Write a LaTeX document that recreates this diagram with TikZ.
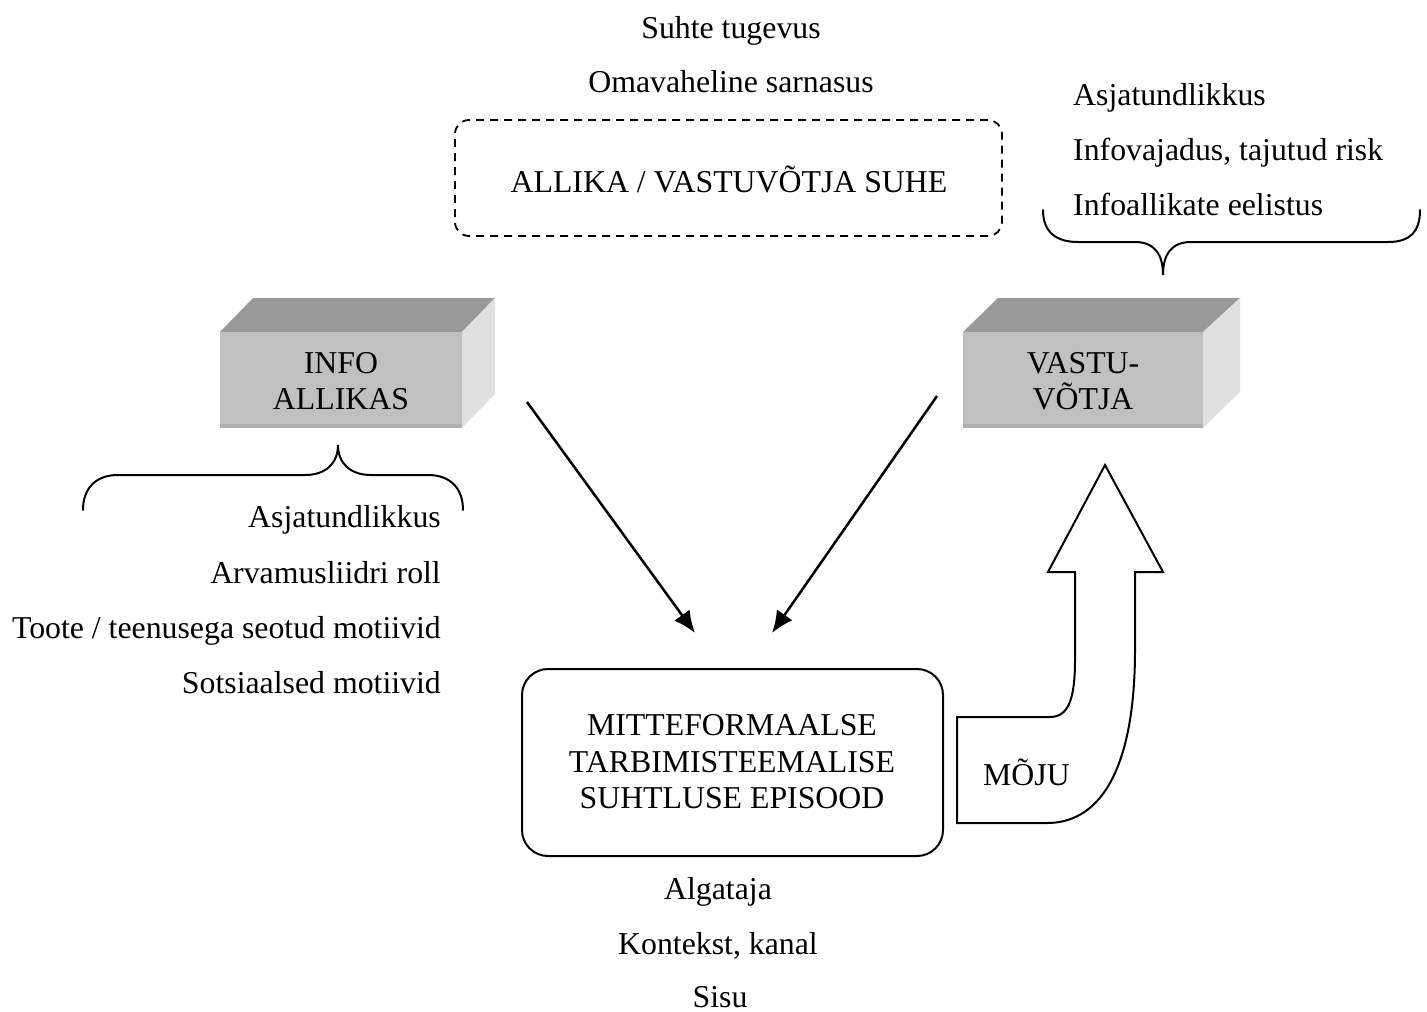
\documentclass[tikz,border=0pt]{standalone}
\usepackage{fontspec}
\setmainfont{Liberation Serif}
\usetikzlibrary{arrows.meta}
\definecolor{boxfront}{HTML}{C0C0C0}
\definecolor{boxtop}{HTML}{999999}
\definecolor{boxside}{HTML}{E0E0E0}
\definecolor{boxedge}{HTML}{AFAFAF}
\begin{document}
\begin{tikzpicture}[x=1pt,y=-1pt,
  txt/.style={font=\fontsize{31.8}{36.5}\selectfont, inner sep=0pt, anchor=base},
  txtL/.style={txt, anchor=base west},
  txtR/.style={txt, anchor=base east},
  brace/.style={line width=2pt, line cap=round},
  conn/.style={line width=2.5pt, -{Latex[length=22pt,width=19pt]}},
  dashbox/.style={draw, line width=1.8pt, dash pattern=on 8pt off 6pt, rounded corners=14pt, inner sep=0pt},
  epbox/.style={draw, line width=2pt, rounded corners=26pt, inner sep=0pt},
  bigarrow/.style={draw, line width=2pt, line join=miter, fill=white}]
\useasboundingbox (0,0) rectangle (1427,1012);

% top texts
\node[txt] (suhte) at (731,38) {Suhte tugevus};
\node[txt] (omav) at (731,92) {Omavaheline sarnasus};

% dashed relation box
\node[dashbox, minimum width=547pt, minimum height=116pt] (relbox) at (728.5,178) {};
\node[txt] (reltxt) at (729,192) {ALLIKA / VASTUVÕTJA SUHE};

% right texts
\node[txtL] (r1) at (1073,105) {Asjatundlikkus};
\node[txtL] (r2) at (1073,160) {Infovajadus, tajutud risk};
\node[txtL] (r3) at (1073,215) {Infoallikate eelistus};

% right brace
\draw[brace] (1043,210) .. controls (1043,232) and (1056,242) .. (1078,242) -- (1135,242)
  .. controls (1155,242) and (1163,255) .. (1163,275)
  .. controls (1163,255) and (1171,242) .. (1191,242) -- (1388,242)
  .. controls (1410,242) and (1420,232) .. (1420,210);

% INFO ALLIKAS 3D box
\fill[boxtop] (220,332) -- (253,298) -- (495,298) -- (462,332) -- cycle;
\fill[boxside] (462,332) -- (495,298) -- (495,394) -- (462,428) -- cycle;
\fill[boxfront] (220,332) rectangle (462,428);
\fill[boxedge] (220,424) rectangle (462,428);
\node[txt, align=center, anchor=center] (info) at (341,381) {INFO\\ALLIKAS};

% VASTUVOTJA 3D box
\fill[boxtop] (963,332) -- (998,298) -- (1240,298) -- (1203,332) -- cycle;
\fill[boxside] (1203,332) -- (1240,298) -- (1240,392) -- (1203,428) -- cycle;
\fill[boxfront] (963,332) rectangle (1203,428);
\fill[boxedge] (963,424) rectangle (1203,428);
\node[txt, align=center, anchor=center] (vast) at (1083,381) {VASTU-\\VÕTJA};

% left brace
\draw[brace] (83,510) .. controls (83,488) and (96,475) .. (118,475) -- (305,475)
  .. controls (326,475) and (338,463) .. (338,445)
  .. controls (338,463) and (350,475) .. (371,475) -- (428,475)
  .. controls (450,475) and (463,488) .. (463,510);

% left texts
\node[txtR] (l1) at (441,527) {Asjatundlikkus};
\node[txtR] (l2) at (441,583) {Arvamusliidri roll};
\node[txtR] (l3) at (441,638) {Toote / teenusega seotud motiivid};
\node[txtR] (l4) at (441,693) {Sotsiaalsed motiivid};

% episode box
\node[epbox, minimum width=421pt, minimum height=187pt] (ep) at (732.5,762.5) {};
\node[txt, align=center, anchor=center] (eptxt) at (732,762) {MITTEFORMAALSE\\TARBIMISTEEMALISE\\SUHTLUSE EPISOOD};

% bottom texts
\node[txt] (b1) at (718,899) {Algataja};
\node[txt] (b2) at (718,954) {Kontekst, kanal};
\node[txt] (b3) at (720,1007) {Sisu};

% connectors
\coordinate (a1s) at (527,402);
\coordinate (a1e) at (695,633);
\coordinate (a2s) at (937,396);
\coordinate (a2e) at (772,633);
\draw[conn] (a1s) -- (a1e);
\draw[conn] (a2s) -- (a2e);

% big MOJU arrow
\draw[bigarrow] (957,717) -- (1050,717) .. controls (1068,717) and (1075,700) .. (1075,660)
  -- (1075,572) -- (1048,572) -- (1105,465) -- (1163,572) -- (1135,572) -- (1135,650)
  .. controls (1135,760) and (1105,823) .. (1047,823) -- (957,823) -- cycle;
\node[txtL] (moju) at (983,785) {MÕJU};
\end{tikzpicture}
\end{document}
